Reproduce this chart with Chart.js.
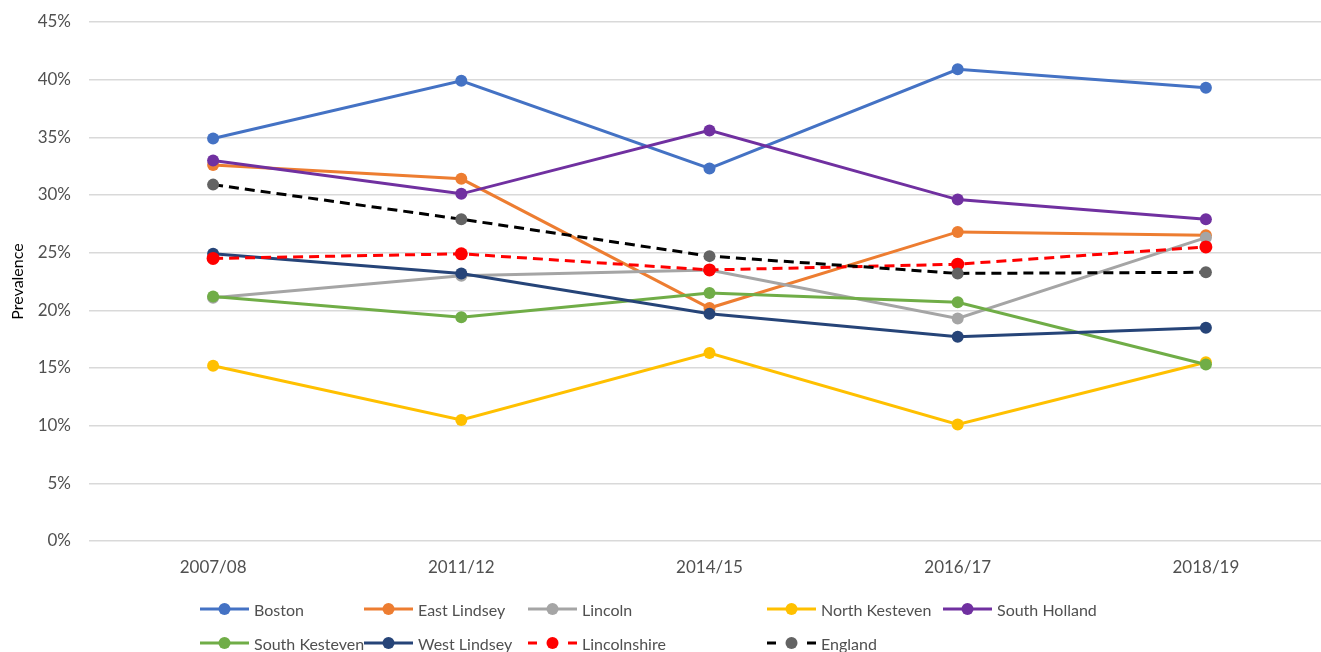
<!DOCTYPE html>
<html>
<head>
<meta charset="utf-8">
<title>Prevalence by district</title>
<script src="https://cdn.jsdelivr.net/npm/chart.js@4.4.1/dist/chart.umd.min.js"></script>
<style>
html, body { margin: 0; padding: 0; background: #fff; overflow: hidden; }
#wrap { position: relative; width: 1332px; height: 660px; }
#legend {
	position: absolute; left: 200px; top: 592px;
	display: grid; grid-template-columns: 164px 164px 239px 176px auto; grid-auto-rows: 34px;
	font-family: Lato, sans-serif; font-size: 16px; color: #505050;
}
.item { display: flex; align-items: center; white-space: nowrap; }
.item canvas { margin-right: 5px; }
</style>
</head>
<body>
<div id="wrap">
	<canvas id="prevCanvas" width="1332" height="660"></canvas>
	<div id="legend"></div>
</div>
<script>
// survey years on the x axis
var years = ['2007/08', '2011/12', '2014/15', '2016/17', '2018/19'];

// prevalence (%) per district
var boston        = [34.9, 39.9, 32.3, 40.9, 39.3];
var eastLindsey   = [32.6, 31.4, 20.2, 26.8, 26.5];
var lincoln       = [21.1, 23.0, 23.5, 19.3, 26.3];
var northKesteven = [15.2, 10.5, 16.3, 10.1, 15.5];
var southHolland  = [33.0, 30.1, 35.6, 29.6, 27.9];
var southKesteven = [21.2, 19.4, 21.5, 20.7, 15.3];
var westLindsey   = [24.9, 23.2, 19.7, 17.7, 18.5];
// county and national comparators
var lincolnshire  = [24.5, 24.9, 23.5, 24.0, 25.5];
var england       = [30.9, 27.9, 24.7, 23.2, 23.3];

var seriesNames = ['Boston', 'East Lindsey', 'Lincoln', 'North Kesteven', 'South Holland',
	'South Kesteven', 'West Lindsey', 'Lincolnshire', 'England'];
var seriesData = [boston, eastLindsey, lincoln, northKesteven, southHolland,
	southKesteven, westLindsey, lincolnshire, england];
var lineColors = ['#4472C4', '#ED7D31', '#A5A5A5', '#FFC000', '#7030A0',
	'#70AD47', '#264478', '#FF0000', '#000000'];
var dotColors = ['#4472C4', '#ED7D31', '#A5A5A5', '#FFC000', '#7030A0',
	'#70AD47', '#264478', '#FF0000', '#636363'];
var dashed = [false, false, false, false, false, false, false, true, true];

var textColor = '#505050';
var fontName = 'Lato';

var datasets = [];
for (var i in seriesNames) {
	datasets.push({
		label: seriesNames[i],
		data: seriesData[i],
		borderColor: lineColors[i],
		backgroundColor: dotColors[i],
		pointBackgroundColor: dotColors[i],
		pointBorderColor: dotColors[i],
		pointBorderWidth: 0,
		pointRadius: i == 7 ? 6.5 : 6,
		borderWidth: 3,
		borderDash: dashed[i] ? [10, 6] : [],
		tension: 0,
		fill: false,
		order: seriesNames.length - i // later series drawn on top
	});
}

var ctx = document.getElementById('prevCanvas');
var lineChart = new Chart(ctx, {
	type: 'line',
	data: { labels: years, datasets: datasets },
	options: {
		responsive: false,
		animation: false,
		layout: { autoPadding: false, padding: { top: 22, right: 2, bottom: 0, left: 0 } },
		plugins: {
			legend: { display: false },
			tooltip: { enabled: false }
		},
		scales: {
			x: {
				offset: true,
				grid: { display: false },
				border: { display: false },
				ticks: { color: textColor, font: { family: fontName, size: 17 }, padding: 8 },
				afterFit: function(scale) { scale.height = 119; }
			},
			y: {
				min: 0,
				max: 45,
				// invisible tick marks push the labels left of the plot
				grid: { color: '#D9D9D9', lineWidth: 1.5, drawTicks: true, tickLength: 18, tickColor: 'rgba(0,0,0,0)' },
				border: { display: false },
				ticks: {
					stepSize: 5,
					color: textColor,
					font: { family: fontName, size: 17 },
					padding: 0,
					callback: function(v) { return v + '%'; }
				},
				title: {
					display: true,
					text: 'Prevalence',
					color: '#000',
					font: { family: fontName, size: 16 },
					padding: { top: 8, bottom: 0 }
				},
				afterFit: function(scale) { scale.width = 89; }
			}
		}
	}
});

// legend: one swatch per series, laid out in columns
var legendBox = document.getElementById('legend');
lineChart.data.datasets.forEach(function(ds, i) {
	var item = document.createElement('div');
	item.className = 'item';
	var sw = document.createElement('canvas');
	sw.width = 49; sw.height = 14;
	var c = sw.getContext('2d');
	c.strokeStyle = ds.borderColor;
	c.lineWidth = 3;
	c.beginPath();
	if (dashed[i]) {
		c.moveTo(0, 7); c.lineTo(9, 7);
		c.moveTo(40, 7); c.lineTo(49, 7);
	} else {
		c.moveTo(0, 7); c.lineTo(49, 7);
	}
	c.stroke();
	c.fillStyle = ds.pointBackgroundColor;
	c.beginPath();
	c.arc(24.5, 7, 6, 0, Math.PI * 2);
	c.fill();
	item.appendChild(sw);
	var txt = document.createElement('span');
	txt.textContent = ds.label;
	item.appendChild(txt);
	// second row starts after North Kesteven / South Holland
	if (i == 5) item.style.gridColumnStart = 1;
	legendBox.appendChild(item);
});
</script>
</body>
</html>
